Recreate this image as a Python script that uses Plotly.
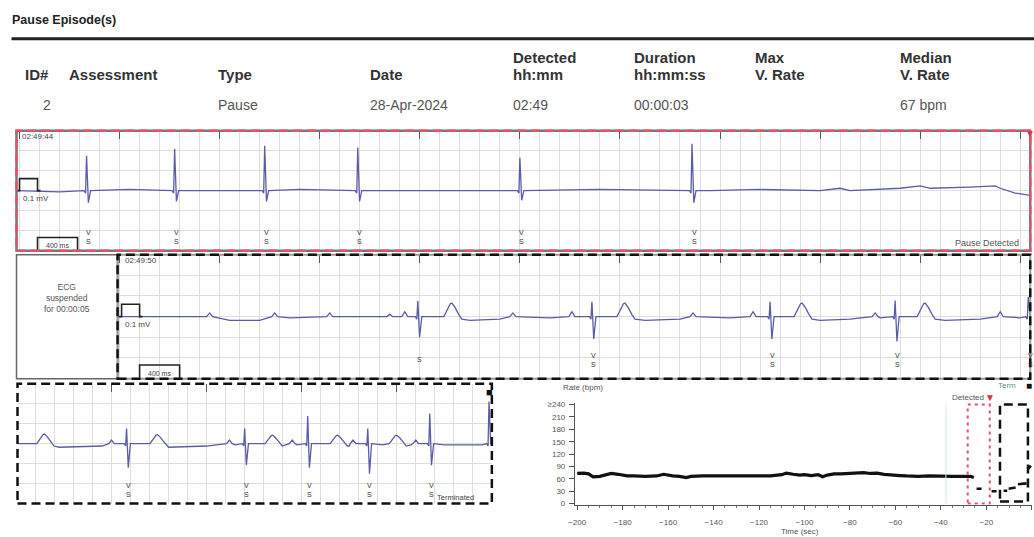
import plotly.graph_objects as go

W, H = 1034, 537

# ---------------- DATA ----------------
title_text = "Pause Episode(s)"
header_line1 = ["", "", "", "", "Detected", "Duration", "Max", "Median"]
header_line2 = ["ID#", "Assessment", "Type", "Date", "hh:mm", "hh:mm:ss", "V. Rate", "V. Rate"]
row_values = ["2", "", "Pause", "28-Apr-2024", "02:49", "00:00:03", "", "67 bpm"]

cal_mv = 0.1          # calibration pulse height (mV)
cal_s = 0.18          # calibration pulse width (s)
bar_ms = 400          # time scale bar (ms)

# Strip 1 (seconds relative to first 1-s tick)
s1_label = "02:49:44"
s1_beat_t = [-0.33, 0.55, 1.45, 2.38, 4.00, 5.72]
s1_r_mv = [0.29, 0.35, 0.375, 0.36, 0.275, 0.39]
s1_s_mv = [-0.10, -0.09, -0.09, -0.09, -0.08, -0.10]
s1_marks = ["V<br>S", "V<br>S", "V<br>S", "V<br>S", "V<br>S", "V<br>S"]
s1_base_t = [-1.03, -0.6, 0.1, 1.0, 1.8, 3.0, 4.8, 5.9, 6.4, 7.0, 7.2, 7.3, 7.8, 8.0, 8.1, 8.5, 8.75, 8.8, 8.95, 9.1]
s1_base_mv = [0.0, -0.01, 0.01, 0.0, 0.01, 0.0, 0.01, 0.0, 0.01, 0.0, 0.02, 0.0, 0.02, 0.04, 0.02, 0.03, 0.04, 0.02, -0.02, -0.04]
s1_note = "Pause Detected"

# Strip 2
s2_label = "02:49:50"
s2_suspended = "00:00:05"
s2_beat_t = [2.98, 4.72, 6.50, 7.75, 9.08]
s2_r_mv = [0.125, 0.12, 0.12, 0.13, 0.16]
s2_s_mv = [-0.165, -0.18, -0.18, -0.20, 0.0]
s2_t_t = [3.32, 5.05, 6.82, 8.05]
s2_t_mv = [0.11, 0.11, 0.11, 0.11]
s2_p_t = [0.90, 1.55, 2.10, 2.70, 2.85, 3.93, 4.52, 5.73, 6.33, 7.55, 8.80]
s2_p_mv = [0.03, 0.03, 0.03, 0.02, 0.04, 0.03, 0.04, 0.03, 0.04, 0.03, 0.04]
s2_marks = ["S", "V<br>S", "V<br>S", "V<br>S", "V<br>S"]
s2_base_t = [-0.02, 0.7, 1.1, 1.4, 1.7, 2.5, 3.5, 3.8, 4.3, 5.25, 5.6, 6.1, 7.0, 7.3, 7.6, 8.25, 8.6, 9.0]
s2_base_mv = [0.0, 0.0, -0.03, -0.03, -0.01, 0.0, -0.03, -0.02, -0.01, -0.03, -0.02, -0.01,
              -0.03, -0.02, -0.01, -0.03, -0.02, -0.01]

# Strip 3
s3_beat_t = [0.158, 1.40, 2.063, 2.695, 3.347, 3.97]
s3_r_mv = [0.125, 0.125, 0.23, 0.125, 0.25, 0.35]
s3_s_mv = [-0.20, -0.18, -0.20, -0.25, -0.18, 0.0]
s3_t_t = [-0.705, 0.484, 1.695, 2.379, 3.0]
s3_t_mv = [0.08, 0.075, 0.07, 0.07, 0.07]
s3_p_t = [0.0, 1.24, 1.90, 2.54, 3.20]
s3_p_mv = [0.03, 0.03, 0.03, 0.03, 0.03]
s3_marks = ["V<br>S", "V<br>S", "V<br>S", "V<br>S", "V<br>S"]
s3_base_t = [-0.99, -0.8, -0.55, -0.1, 0.6, 1.0, 1.3, 1.8, 1.95, 2.5, 2.85, 3.15, 3.5, 3.9]
s3_base_mv = [0.0, 0.0, -0.03, -0.02, -0.03, -0.02, -0.01, -0.02, -0.01, -0.02, -0.01, -0.01, -0.01, -0.01]
s3_note = "Terminated"

# Rate trend (bpm vs seconds)
rate_t = [-200, -197, -195, -193, -190, -188, -185, -182, -178, -175, -170, -165, -162, -158, -155,
          -152, -150, -145, -140, -135, -130, -125, -120, -115, -110, -108, -105, -102, -100, -97,
          -94, -92, -90, -87, -84, -80, -77, -74, -71, -68, -65, -62, -58, -55, -50, -45, -40, -35,
          -30, -27, -25.5]
rate_bpm = [73, 74, 72, 65, 66, 69, 73, 71, 67, 67, 66, 67, 71, 67, 66,
            63, 66, 67, 67, 66, 66, 67, 67, 67, 70, 74, 71, 69, 70, 68,
            70, 65, 69, 72, 72, 73, 73, 75, 73, 74, 71, 69, 68, 67, 66, 67, 66, 66,
            66, 66, 63]
post_t = [-24.3, -22.1, None, -17.7, -15.5, None, -12.4, -10.8, None, -10.2, -7.1, None, -6.1, -2.3, None, -1.6, -0.4]
post_bpm = [36, 36, None, 30, 30, None, 31, 31, None, 36, 39, None, 47, 49, None, 84, 92]
detected_window = [-28.2, -18.5]
term_window = [-14.0, -1.7]
rate_ticks = [0, 30, 60, 90, 120, 150, 180, 210, 240]
rate_ticktext = ["0", "30", "60", "90", "120", "150", "180", "210", "\u2265240"]
time_ticks = [-200, -180, -160, -140, -120, -100, -80, -60, -40, -20, 0]

# ---------------- HELPERS ----------------
FONT = "Liberation Sans, Arial, sans-serif"
ECG = "#5b5ca6"
GRID = "#dedede"
TXT = "#444444"

# page-placement correction (rendered page is offset/scaled slightly)
OX, SX, OY, SY = 7.5, 0.9925, 1.3, 0.989


def px(x):
    return (x - OX) / SX / W


def py(y):
    return 1 - (y - OY) / SY / H


def ecg_vertices(base_t, base_v, beat_t, r, s, t_t=(), t_v=(), p_t=(), p_v=()):
    pts, excl = [], []
    for bt, rv, sv in zip(beat_t, r, s):
        pts += [(bt - 0.025, 0.0), (bt - 0.01, -0.02), (bt, rv), (bt + 0.018, sv), (bt + 0.04, 0.0)]
        excl.append((bt - 0.03, bt + 0.05))
    for tt, tv in zip(t_t, t_v):
        pts += [(tt - 0.08, 0.0), (tt - 0.04, tv * 0.6), (tt - 0.015, tv * 0.95), (tt, tv),
                (tt + 0.03, tv * 0.7), (tt + 0.07, tv * 0.15), (tt + 0.1, -0.02)]
        excl.append((tt - 0.09, tt + 0.11))
    for pt_, pv in zip(p_t, p_v):
        pts += [(pt_ - 0.03, 0.0), (pt_, pv), (pt_ + 0.03, 0.0)]
        excl.append((pt_ - 0.035, pt_ + 0.035))
    for bt, bv in zip(base_t, base_v):
        if not any(a <= bt <= b for a, b in excl):
            pts.append((bt, bv))
    pts.sort()
    return [p[0] for p in pts], [p[1] for p in pts]


fig = go.Figure()
annotations = []
shapes = []


def ann(x, y, text, size=9, color=TXT, xanchor="left", bold=False, xref="paper", yref="paper", yanchor="middle"):
    annotations.append(dict(x=x, y=y, xref=xref, yref=yref, text=("<b>%s</b>" % text) if bold else text,
                            showarrow=False, xanchor=xanchor, yanchor=yanchor, borderpad=0,
                            font=dict(family=FONT, size=size, color=color)))


# ---------------- HEADER ----------------
ann(px(11), py(19), title_text, size=12.5, color="#222", bold=True)
shapes.append(dict(type="line", xref="paper", yref="paper", x0=px(12), x1=1, y0=py(38), y1=py(38),
                   line=dict(color="#222", width=3)))
hdr_x = [24, 68, 217, 369, 512, 633, 754, 899]
for xx, l1, l2 in zip(hdr_x, header_line1, header_line2):
    if l1:
        ann(px(xx), py(57), l1, size=15, color="#333", bold=True)
    ann(px(xx), py(74), l2, size=15, color="#333", bold=True)
val_x = [42, 68, 217, 369, 512, 633, 754, 899]
for xx, v in zip(val_x, row_values):
    if v:
        ann(px(xx), py(104), v, size=14, color="#555")

# ---------------- ECG STRIPS ----------------
strips = [
    dict(n="", xdom=(17, 1030), ydom=(130, 250), xr=(-1.03, 9.10)),
    dict(n="2", xdom=(118, 1030), ydom=(254, 378), xr=(-0.02, 9.10)),
    dict(n="3", xdom=(18, 492), ydom=(383, 503), xr=(-0.989, 4.0)),
]
layout_axes = {}
for st in strips:
    n = st["n"]
    layout_axes["xaxis" + n] = dict(
        domain=[px(st["xdom"][0]), px(st["xdom"][1])], range=list(st["xr"]), anchor="y" + (n or ""),
        side="top", ticks="inside", ticklen=8, tickwidth=1.2, tickcolor="#555", tick0=0, dtick=1,
        showticklabels=False, showgrid=True, gridcolor=GRID, gridwidth=1, zeroline=False, showline=False,
        minor=dict(tick0=0, dtick=0.2, showgrid=True, gridcolor=GRID, ticks=""), fixedrange=True)
    layout_axes["yaxis" + n] = dict(
        domain=[py(st["ydom"][1]), py(st["ydom"][0])], range=[-0.5, 0.5], anchor="x" + (n or ""),
        showticklabels=False, ticks="", tick0=0, dtick=1 / 6, showgrid=True, gridcolor=GRID,
        zeroline=False, showline=False, fixedrange=True)

x1, y1 = ecg_vertices(s1_base_t, s1_base_mv, s1_beat_t, s1_r_mv, s1_s_mv)
fig.add_trace(go.Scatter(x=x1, y=y1, mode="lines", line=dict(color=ECG, width=1.3), xaxis="x", yaxis="y",
                         hoverinfo="skip"))
x2, y2 = ecg_vertices(s2_base_t, s2_base_mv, s2_beat_t, s2_r_mv, s2_s_mv, s2_t_t, s2_t_mv, s2_p_t, s2_p_mv)
fig.add_trace(go.Scatter(x=x2, y=y2, mode="lines", line=dict(color=ECG, width=1.3), xaxis="x2", yaxis="y2",
                         hoverinfo="skip"))
x3, y3 = ecg_vertices(s3_base_t, s3_base_mv, s3_beat_t, s3_r_mv, s3_s_mv, s3_t_t, s3_t_mv, s3_p_t, s3_p_mv)
fig.add_trace(go.Scatter(x=x3, y=y3, mode="lines", line=dict(color=ECG, width=1.3), xaxis="x3", yaxis="y3",
                         hoverinfo="skip"))

# calibration pulses and 400 ms bars (strips 1 and 2)
for xa, ya, t0 in [("x", "y", -1.0), ("x2", "y2", 0.02)]:
    fig.add_trace(go.Scatter(x=[t0 - 0.03, t0, t0, t0 + cal_s, t0 + cal_s, t0 + cal_s + 0.03],
                             y=[0, 0, cal_mv, cal_mv, 0, 0], mode="lines",
                             line=dict(color="#222", width=1.6), xaxis=xa, yaxis=ya, hoverinfo="skip"))
    b0 = t0 + cal_s
    fig.add_trace(go.Scatter(x=[b0, b0, b0 + bar_ms / 1000, b0 + bar_ms / 1000],
                             y=[-0.5, -0.39, -0.39, -0.5], mode="lines",
                             line=dict(color="#222", width=1.6), xaxis=xa, yaxis=ya, hoverinfo="skip"))
    annotations.append(dict(x=b0 + bar_ms / 2000, y=-0.455, xref=xa, yref=ya, text="%d ms" % bar_ms,
                            showarrow=False, font=dict(family=FONT, size=7, color=TXT)))

ann(px(21), py(136), s1_label, size=8)
ann(px(22), py(198), "%.1f mV" % cal_mv, size=8)
ann(px(124), py(260), s2_label, size=8)
ann(px(124), py(324), "%.1f mV" % cal_mv, size=8)

for t, m in zip(s1_beat_t, s1_marks):
    ann(t + 0.02, py(236), m, size=7, color="#333", xanchor="center", xref="x")
for t, m in zip(s2_beat_t, s2_marks):
    ann(t + 0.02, py(359), m, size=7, color="#333", xanchor="center", xref="x2")
for t, m in zip(s3_beat_t, s3_marks):
    ann(t + 0.02, py(489), m, size=7, color="#333", xanchor="center", xref="x3")

ann(px(1020), py(242), s1_note, size=9, color="#555", xanchor="right")
ann(px(1030), py(133), "\u25bc", size=10, color="#e0304a", xanchor="center")
ann(px(456), py(497), s3_note, size=7.5, color="#444", xanchor="center")
ann(px(490), py(391), "\u25a0", size=11, color="#111", xanchor="center")
ann(px(67), py(297), "ECG<br>suspended<br>for " + s2_suspended, size=8.5, color="#555", xanchor="center")

# strip borders
shapes.append(dict(type="rect", xref="paper", yref="paper", x0=px(17), x1=px(118), y0=py(378), y1=py(254),
                   line=dict(color="#666", width=1.5)))
shapes.append(dict(type="rect", xref="paper", yref="paper", x0=px(17), x1=px(1030), y0=py(250), y1=py(130),
                   line=dict(color="#777", width=2.5)))
shapes.append(dict(type="rect", xref="paper", yref="paper", x0=px(17), x1=px(1030), y0=py(250), y1=py(130),
                   line=dict(color="#e8506a", width=2.5, dash="9px,5px")))
shapes.append(dict(type="rect", xref="paper", yref="paper", x0=px(118), x1=px(1030), y0=py(378), y1=py(254),
                   line=dict(color="#999", width=2)))
shapes.append(dict(type="rect", xref="paper", yref="paper", x0=px(118), x1=px(1030), y0=py(378), y1=py(254),
                   line=dict(color="#111", width=2.5, dash="9px,5px")))
shapes.append(dict(type="rect", xref="paper", yref="paper", x0=px(18), x1=px(492), y0=py(503), y1=py(383),
                   line=dict(color="#111", width=2.5, dash="9px,5px")))

# ---------------- RATE CHART ----------------
layout_axes["xaxis4"] = dict(domain=[px(575), min(1.0, px(1032))], range=[-201, 0.2], anchor="y4",
                             tickvals=time_ticks, ticks="outside", ticklen=4, tickcolor="#555",
                             ticklabelstandoff=6,
                             minor=dict(dtick=5, tick0=0, ticks="outside", ticklen=2, tickcolor="#777"),
                             showline=True, linecolor="#555", linewidth=1, showgrid=False, zeroline=False,
                             tickfont=dict(family=FONT, size=8, color="#555"), fixedrange=True)
layout_axes["yaxis4"] = dict(domain=[py(504.2), py(401.9)], range=[-3, 245], anchor="x4",
                             tickvals=rate_ticks, ticktext=rate_ticktext, ticks="outside", ticklen=5,
                             tickcolor="#555", showline=True, linecolor="#555", linewidth=1,
                             showgrid=False, zeroline=False, ticklabelstandoff=2,
                             tickfont=dict(family=FONT, size=8, color="#555"), fixedrange=True)

shapes.append(dict(type="line", xref="x4", yref="y4", x0=-37.8, x1=-37.8, y0=0, y1=240,
                   line=dict(color="#d5ecf1", width=1)))
fig.add_trace(go.Scatter(x=rate_t, y=rate_bpm, mode="lines", line=dict(color="#111", width=3.2),
                         xaxis="x4", yaxis="y4", hoverinfo="skip"))
fig.add_trace(go.Scatter(x=post_t, y=post_bpm, mode="lines", line=dict(color="#111", width=2.6),
                         connectgaps=False, xaxis="x4", yaxis="y4", hoverinfo="skip"))
shapes.append(dict(type="rect", xref="x4", yref="y4", x0=detected_window[0], x1=detected_window[1],
                   y0=0, y1=240, line=dict(color="#e0506a", width=2, dash="3px,4px")))
shapes.append(dict(type="rect", xref="x4", yref="y4", x0=term_window[0], x1=term_window[1],
                   y0=5, y1=240, line=dict(color="#111", width=2.5, dash="9px,5px")))

ann(px(562), py(387), "Rate (bpm)", size=8, color="#555")
ann(px(800), py(531), "Time (sec)", size=8, color="#555", xanchor="center")
ann(px(985), py(397), "Detected", size=8, color="#555", xanchor="right")
ann(px(990), py(397), "\u25bc", size=10, color="#e0304a", xanchor="center")
ann(px(1017), py(385), "Term", size=8, color="#6a8f95", xanchor="right")
ann(px(1029), py(385), "\u25a0", size=10, color="#111", xanchor="center")

fig.update_layout(width=W, height=H, margin=dict(l=0, r=0, t=0, b=0), paper_bgcolor="white",
                  plot_bgcolor="white", showlegend=False, annotations=annotations, shapes=shapes,
                  font=dict(family=FONT), **layout_axes)
fig.write_html("out.html", config={"displayModeBar": False})
